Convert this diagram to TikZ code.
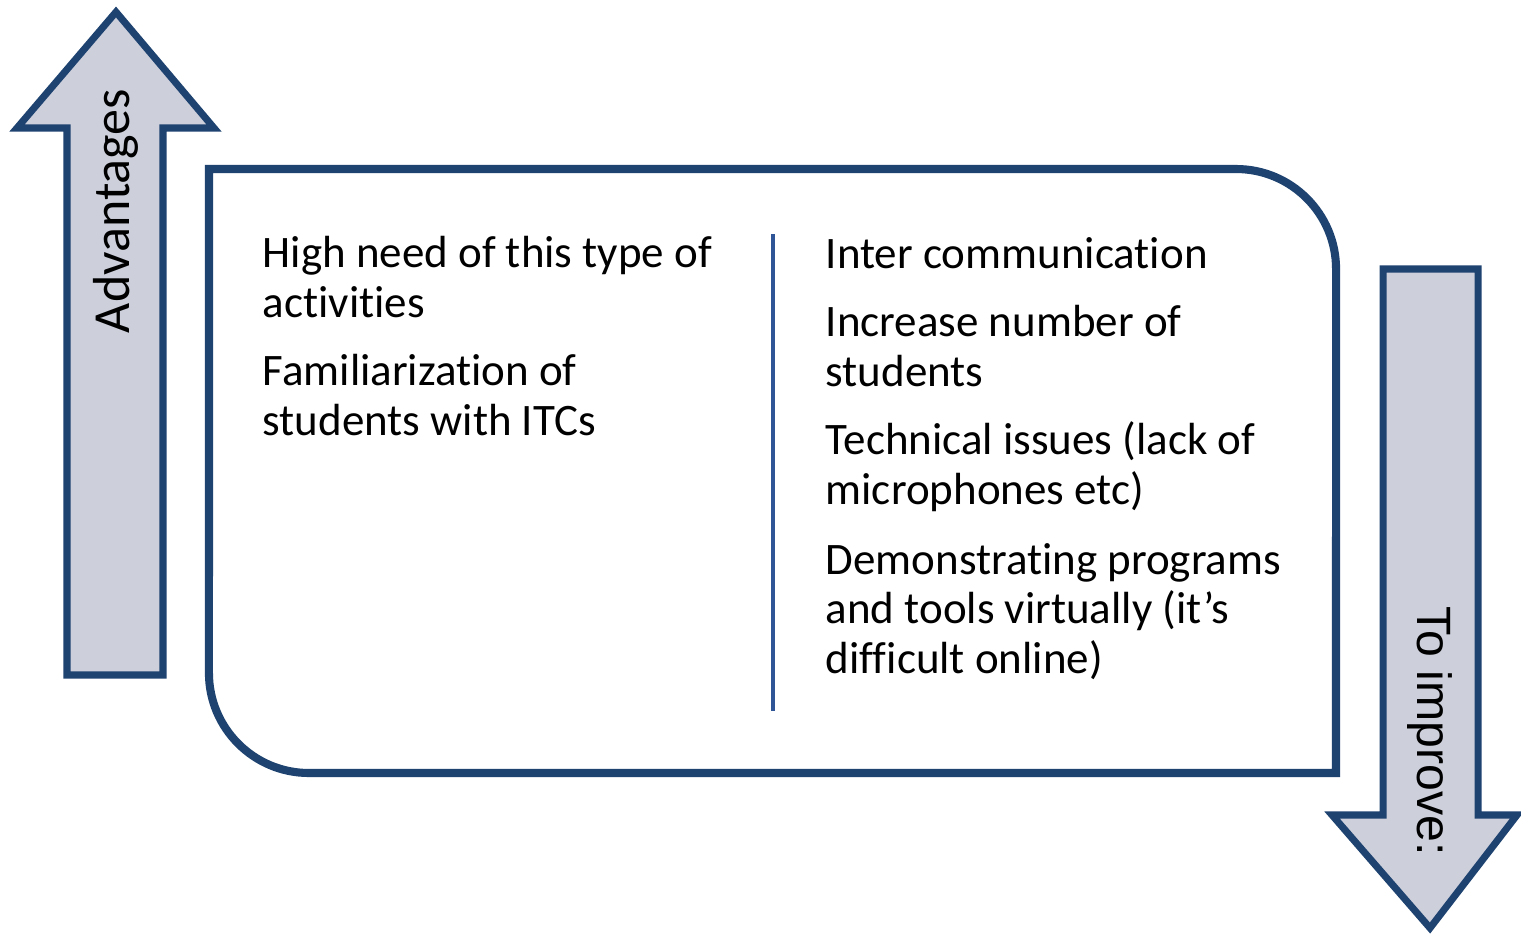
\documentclass[tikz,border=0pt]{standalone}
\usepackage{fontspec}
\setmainfont[Ligatures=NoCommon]{Carlito}
\newfontfamily\arialfont{Liberation Sans}
\usepackage{tikz}
\usetikzlibrary{positioning, calc}
\definecolor{darkblue}{RGB}{31,67,112}
\definecolor{midblue}{RGB}{47,85,151}
\definecolor{arrowgray}{RGB}{205,208,219}

\begin{document}
\begin{tikzpicture}[x=0.01cm, y=-0.01cm,
    bigarrow/.style={draw=darkblue, fill=arrowgray, line width=2pt, line join=miter},
    item/.style={anchor=base west, align=left, inner sep=0pt, font=\fontsize{12.8}{13.94}\selectfont}]
    \useasboundingbox (0,0) rectangle (1521,936);

    % arrows
    \draw [bigarrow] (67,675) -- (67,128) -- (17,128) -- (116,12) -- (214,128) -- (163,128) -- (163,675) -- cycle;
    \draw [bigarrow] (1383,269) -- (1478,269) -- (1478,815) -- (1517,815) -- (1430,928) -- (1332,815) -- (1383,815) -- cycle;
    \node [rotate=90, font=\fontsize{14.8}{16}\selectfont] (adv) at (116,211) {Advantages};
    \node [rotate=-90, font=\arialfont\fontsize{13.7}{15}\selectfont] (imp) at (1430,731) {To improve:};

    % main box
    \draw [draw=darkblue, fill=white, line width=2.3pt]
        (209,169) -- (1236,169) arc[start angle=90, end angle=0, radius=1cm]
        -- (1336,773) -- (309,773) arc[start angle=270, end angle=180, radius=1cm] -- cycle;

    \coordinate (divtop) at (773,234);
    \coordinate (divbot) at (773,711);
    \draw [midblue, line width=1.4pt] (divtop) -- (divbot);

    % left column (base = last line)
    \node [item] (need) at (262,317) {High need of this type of\\activities};
    \node [item] (fam) at (262,435) {Familiarization of\\students with ITCs};

    % right column
    \node [item] (inter) at (825,268) {Inter communication};
    \node [item] (incr) at (825,386) {Increase number of\\students};
    \node [item] (tech) at (825,504) {Technical issues (lack of\\microphones etc)};
    \node [item] (demo) at (825,673) {Demonstrating programs\\and tools virtually (it’s\\difficult online)};
\end{tikzpicture}
\end{document}
